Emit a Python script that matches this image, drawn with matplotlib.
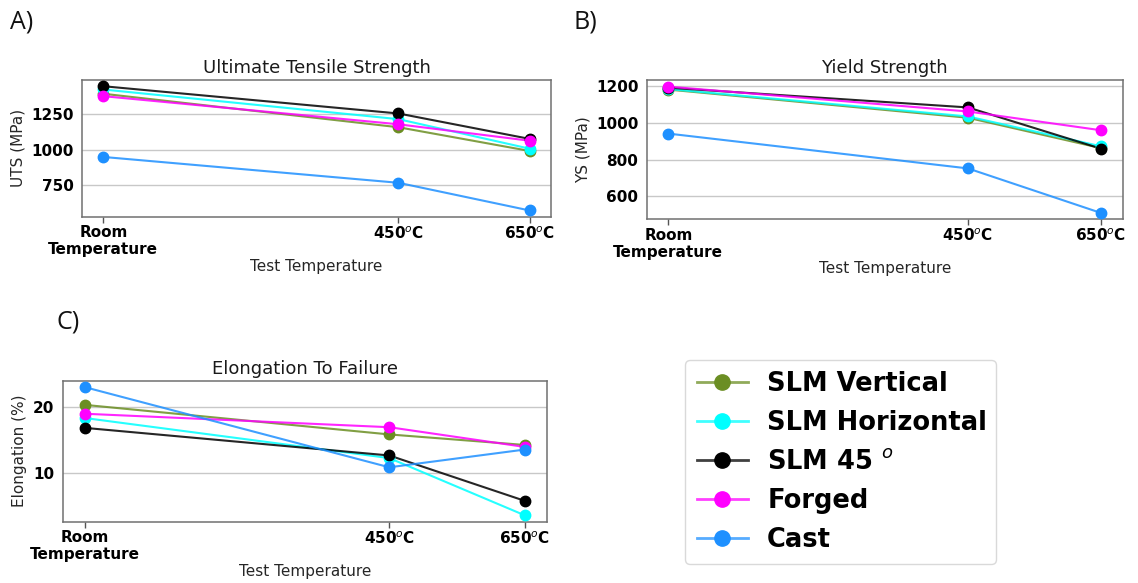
import matplotlib
matplotlib.use("Agg")
import matplotlib.pyplot as plt
from matplotlib.lines import Line2D
from matplotlib.colors import to_rgba

# ---- data ----
temp_positions = [0, 450, 650]
temp_labels = ["Room\nTemperature", "450$^o$C", "650$^o$C"]
series_names = ["SLM Vertical", "SLM Horizontal", "SLM 45 $^o$", "Forged", "Cast"]
series_colors = ["#6B8E23", "#00FFFF", "#000000", "#FF00FF", "#1E90FF"]

uts_vertical = [1396, 1160, 993]
uts_horizontal = [1426, 1217, 1009]
uts_45 = [1449, 1257, 1078]
uts_forged = [1379, 1181, 1065]
uts_cast = [951, 769, 574]

ys_vertical = [1180, 1027, 862]
ys_horizontal = [1183, 1034, 872]
ys_45 = [1190, 1083, 859]
ys_forged = [1196, 1061, 959]
ys_cast = [941, 752, 510]

el_vertical = [20.4, 15.9, 14.3]
el_horizontal = [18.4, 12.3, 3.6]
el_45 = [16.9, 12.7, 5.8]
el_forged = [19.05, 17.0, 14.0]
el_cast = [23.1, 10.9, 13.6]

W, H = 1138, 583
fig = plt.figure(figsize=(W / 100, H / 100), dpi=100)


def px_axes(left, top, right, bottom):
    return fig.add_axes([left / W, 1 - bottom / H, (right - left) / W, (bottom - top) / H])


def style_axes(ax, title, ylabel, yticks):
    ax.set_title(title, fontsize=13, color="#1a1a1a", pad=5)
    ax.set_ylabel(ylabel, fontsize=11, color="#262626")
    ax.set_xlabel("Test Temperature", fontsize=11, color="#262626", labelpad=1)
    ax.set_xticks(temp_positions)
    ax.set_xticklabels(temp_labels, fontsize=11, fontweight="bold")
    ax.set_yticks(yticks)
    ax.set_yticklabels([str(t) for t in yticks], fontsize=11, fontweight="bold")
    ax.tick_params(axis="x", length=4, width=1, color="#555555", pad=2)
    ax.tick_params(axis="y", length=0, pad=6)
    ax.grid(axis="y", color="#c8c8c8", linewidth=1)
    ax.set_axisbelow(True)
    for sp in ax.spines.values():
        sp.set_color("#707070")
        sp.set_linewidth(1.1)


def draw(ax, series):
    for vals, col in zip(series, series_colors):
        ax.plot(temp_positions, vals, color=col, linewidth=1.5, alpha=0.85, zorder=2)
        ax.plot(temp_positions, vals, linestyle="none", marker="o", markersize=7.5,
                color=col, zorder=3)


axA = px_axes(82, 80, 551, 216.7)
draw(axA, [uts_vertical, uts_horizontal, uts_45, uts_forged, uts_cast])
style_axes(axA, "Ultimate Tensile Strength", "UTS (MPa)", [750, 1000, 1250])

axB = px_axes(646.7, 80.3, 1122.7, 219.3)
draw(axB, [ys_vertical, ys_horizontal, ys_45, ys_forged, ys_cast])
style_axes(axB, "Yield Strength", "YS (MPa)", [600, 800, 1000, 1200])

axC = px_axes(62.7, 380.7, 546.7, 521.7)
draw(axC, [el_vertical, el_horizontal, el_45, el_forged, el_cast])
style_axes(axC, "Elongation To Failure", "Elongation (%)", [10, 20])

# panel letters
for txt, x, y in [("A)", 10, 22), ("B)", 573, 22), ("C)", 57, 322)]:
    fig.text(x / W, 1 - y / H, txt, fontsize=18, family="Open Sans",
             ha="left", va="center", color="#111111")

# legend
handles = [Line2D([0], [0], color=to_rgba(c, 0.75), linewidth=2, marker="o",
                  markersize=11, markerfacecolor=c, markeredgecolor=c)
           for c in series_colors]
leg = fig.legend(handles, series_names, loc="lower left",
                 bbox_to_anchor=(685 / W, 1 - 564.3 / H, 310.7 / W, 202 / H),
                 mode="expand", prop={"weight": "bold", "size": 18.5},
                 frameon=True, fancybox=True, handlelength=2.0, handletextpad=0.75,
                 labelspacing=0.5, borderpad=0.45, borderaxespad=0)
leg.get_frame().set_edgecolor("#d0d0d0")
leg.get_frame().set_linewidth(1)

fig.savefig("out.png", dpi=100)
